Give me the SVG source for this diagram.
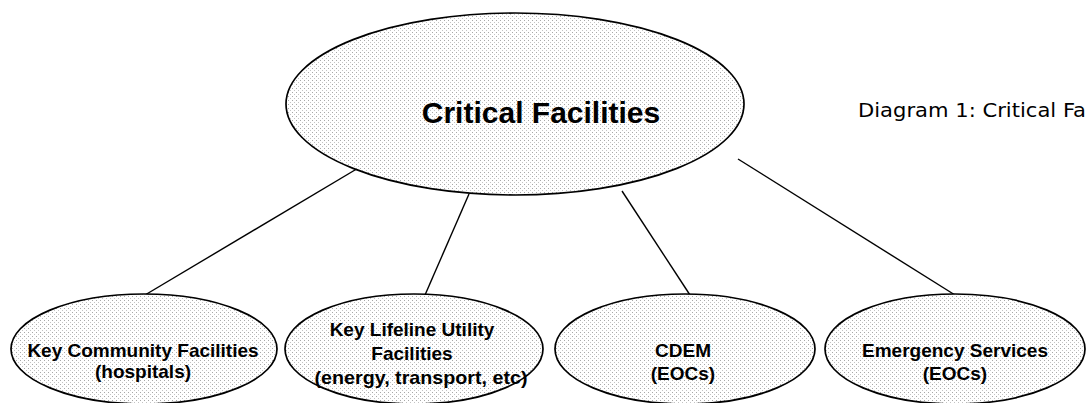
<svg xmlns="http://www.w3.org/2000/svg" width="1086" height="403" viewBox="0 0 1086 403">
<defs>
<pattern id="stip" width="4" height="4" patternUnits="userSpaceOnUse">
<rect width="4" height="4" fill="#ffffff"/>
<rect x="0" y="0" width="1" height="1" fill="#a8a8a8"/>
<rect x="2" y="2" width="1" height="1" fill="#c4c4c4"/>
</pattern>
</defs>
<style>
.node{fill:url(#stip);stroke:#000;stroke-width:1.7}
.edge{stroke:#000;stroke-width:1.4;fill:none}
.t{font-family:"Liberation Sans",Arial,sans-serif;font-weight:bold;fill:#000;text-anchor:middle}
.cap{font-family:"DejaVu Sans",Verdana,sans-serif;fill:#000}
</style>
<g id="connectors">
<line class="edge" x1="360" y1="167" x2="145" y2="295"/>
<line class="edge" x1="469" y1="194" x2="425" y2="295"/>
<line class="edge" x1="622" y1="191" x2="690" y2="295"/>
<line class="edge" x1="738" y1="159" x2="955" y2="295"/>
</g>
<g id="critical">
<ellipse class="node" cx="515" cy="104" rx="229" ry="91"/>
<text class="t" x="541" y="123" font-size="30">Critical Facilities</text>
</g>
<g id="community">
<ellipse class="node" cx="144" cy="349" rx="133" ry="55"/>
<text class="t" x="143" y="357" font-size="19">Key Community Facilities</text>
<text class="t" x="143" y="378" font-size="19">(hospitals)</text>
</g>
<g id="lifeline">
<ellipse class="node" cx="414" cy="349" rx="129" ry="55"/>
<text class="t" x="412" y="336" font-size="19">Key Lifeline Utility</text>
<text class="t" x="412" y="360" font-size="19">Facilities</text>
<text class="t" x="421" y="384" font-size="19" textLength="213" lengthAdjust="spacingAndGlyphs">(energy, transport, etc)</text>
</g>
<g id="cdem">
<ellipse class="node" cx="685" cy="349" rx="130" ry="55"/>
<text class="t" x="683" y="357" font-size="19">CDEM</text>
<text class="t" x="683" y="380" font-size="19">(EOCs)</text>
</g>
<g id="emergency">
<ellipse class="node" cx="955" cy="349" rx="130" ry="55"/>
<text class="t" x="955" y="357" font-size="19">Emergency Services</text>
<text class="t" x="955" y="380" font-size="19">(EOCs)</text>
</g>
<text class="cap" x="858" y="117" font-size="20" textLength="228" lengthAdjust="spacingAndGlyphs">Diagram 1: Critical Fa</text>
</svg>
